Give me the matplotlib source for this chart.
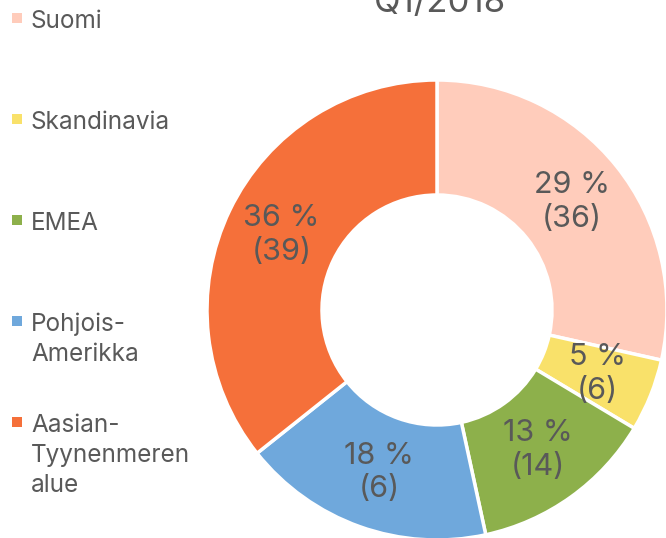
import matplotlib
matplotlib.use("Agg")
import matplotlib.pyplot as plt
from matplotlib.patches import Rectangle
import numpy as np

# Data
categories = ["Suomi", "Skandinavia", "EMEA", "Pohjois-\nAmerikka", "Aasian-\nTyynenmeren\nalue"]
shares = [28.5, 5.1, 13.0, 17.7, 35.7]
pct_labels = [29, 5, 13, 18, 36]                # printed percentages
counts = [36, 6, 14, 6, 39]                     # printed counts
colors = ["#FFCCBB", "#F9E16A", "#8DB04B", "#6FA8DC", "#F5703A"]
title = "Q1/2018"

W, H = 666, 538
fig = plt.figure(figsize=(W / 100, H / 100), dpi=100)
plt.rcParams['font.family'] = ['Inter', 'DejaVu Sans']
txt_color = "#595959"

cx, cy, R = 437, 310, 230
ax = fig.add_axes([(cx - R) / W, (H - cy - R) / H, 2 * R / W, 2 * R / H])
wedges, _ = ax.pie(shares, colors=colors, startangle=90, counterclock=False,
                   radius=1.0, wedgeprops=dict(width=0.5, edgecolor="white", linewidth=2.5))
ax.set_xlim(-1, 1)
ax.set_ylim(-1, 1)
ax.set_aspect('equal')
ax.axis('off')

for w, p, c in zip(wedges, pct_labels, counts):
    ang = np.deg2rad((w.theta1 + w.theta2) / 2)
    r = 0.75
    ax.text(r * np.cos(ang), r * np.sin(ang), f"{p} %\n({c})", ha='center', va='center',
            fontsize=22, color=txt_color, linespacing=1.25)

fig.text(440 / W, 1 - 12 / H, title, ha='center', va='baseline', fontsize=25, color=txt_color)

# Legend (manual)
step = 101
for i, (cat, col) in enumerate(zip(categories, colors)):
    ytop = 18 + step * i
    fig.patches.append(Rectangle((12 / W, 1 - (ytop + 5) / H), 10 / W, 10 / H,
                                 transform=fig.transFigure, facecolor=col, edgecolor='none'))
    fig.text(31 / W, 1 - (ytop - 8) / H, cat, ha='left', va='top', fontsize=17.5,
             color=txt_color, linespacing=1.38)

fig.savefig("out.png", dpi=100)
